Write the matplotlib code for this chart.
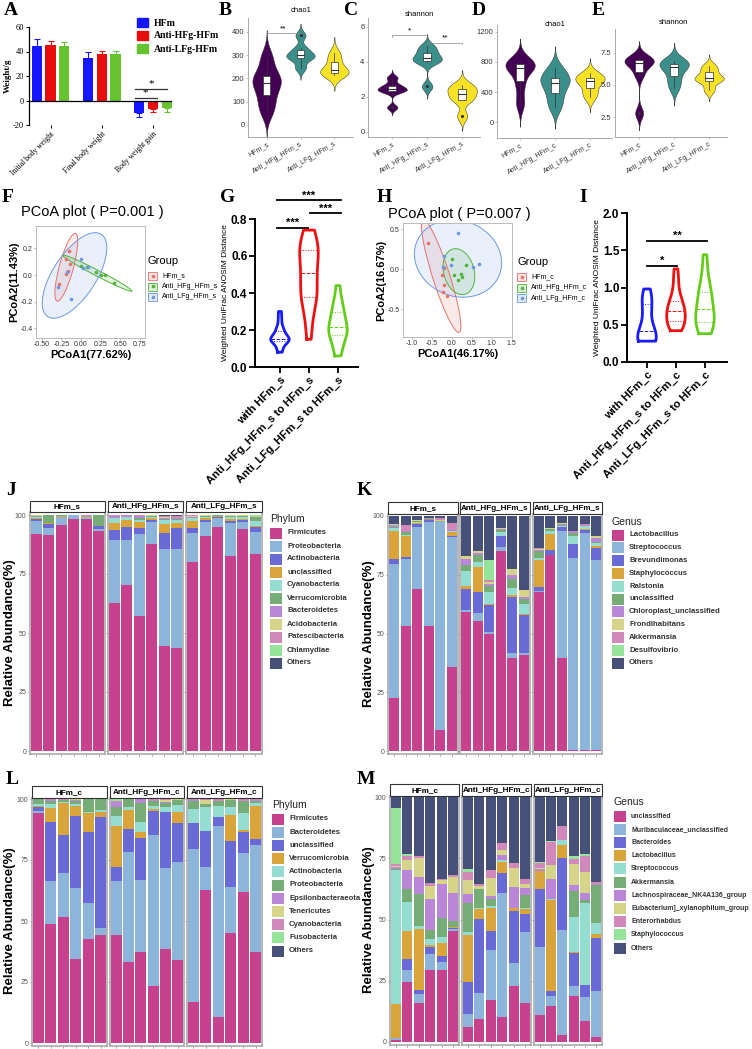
import numpy as np
import matplotlib
matplotlib.use('Agg')
import matplotlib.pyplot as plt
from matplotlib.patches import Rectangle, Ellipse

# ---------------- DATA ----------------
# Panel A
a_groups = ['Initial body weight', 'Final body weight', 'Body weight gain']
a_series = ['HFm', 'Anti-HFg-HFm', 'Anti-LFg-HFm']
a_mean_hfm = [44.5, 34.5, -10.0]
a_mean_hfg = [45.0, 38.0, -7.0]
a_mean_lfg = [44.5, 38.0, -6.5]
a_sd_hfm = [6.0, 5.5, 3.5]
a_sd_hfg = [3.5, 2.5, 2.5]
a_sd_lfg = [3.0, 2.5, 2.5]

# Panels B-E (alpha diversity samples)
s_labels = ['HFm_s', 'Anti_HFg_HFm_s', 'Anti_LFg_HFm_s']
c_labels = ['HFm_c', 'Anti_HFg_HFm_c', 'Anti_LFg_HFm_c']
b_chao1 = [[60, 115, 170, 190, 220, 290],
           [245, 285, 295, 305, 330, 385],
           [215, 220, 230, 245, 280, 310]]
c_shannon = [[1.4, 2.3, 2.4, 2.5, 2.7, 3.1],
             [2.6, 4.0, 4.1, 4.3, 4.6, 4.9],
             [0.9, 1.8, 2.0, 2.3, 2.5, 2.7]]
d_chao1 = [[250, 500, 700, 750, 780, 800],
           [200, 350, 480, 560, 600, 720],
           [330, 420, 530, 560, 600, 650]]
e_shannon = [[2.8, 5.8, 6.6, 6.8, 7.0, 7.1],
             [4.8, 5.5, 6.2, 6.6, 6.7, 6.9],
             [4.6, 5.3, 5.5, 5.6, 6.1, 6.5]]

# Panel F / H PCoA coordinates
f_hfm_x = [-0.15, -0.19, -0.14, -0.19, -0.17, -0.28]
f_hfm_y = [0.18, 0.12, 0.08, 0.01, 0.03, -0.07]
f_hfg_x = [0.00, 0.08, 0.19, 0.25, 0.30, 0.42]
f_hfg_y = [0.068, 0.06, 0.02, 0.00, -0.003, -0.06]
f_lfg_x = [0.00, 0.085, -0.29, -0.13, -0.18, 0.02]
f_lfg_y = [0.12, 0.06, -0.09, -0.18, 0.02, 0.05]
h_hfm_x = [-0.60, -0.20, -0.24, -0.20, -0.22, -0.12]
h_hfm_y = [0.33, 0.02, -0.07, -0.20, -0.28, -0.33]
h_hfg_x = [0.00, 0.37, 0.05, 0.23, 0.26, 0.17]
h_hfg_y = [0.13, 0.05, -0.07, -0.06, -0.10, -0.13]
h_lfg_x = [0.15, -0.20, -0.21, -0.01, 0.54, 0.68]
h_lfg_y = [0.46, 0.17, 0.03, 0.05, 0.03, 0.07]

# Panels G / I ANOSIM distances
g_labels = ['with HFm_s', 'Anti_HFg_HFm_s to HFm_s', 'Anti_LFg_HFm_s to HFm_s']
i_labels = ['with HFm_c', 'Anti_HFg_HFm_s to HFm_c', 'Anti_LFg_HFm_s to HFm_c']
g_with = [0.08, 0.10, 0.13, 0.14, 0.14, 0.15, 0.15, 0.15, 0.16, 0.17, 0.19, 0.20, 0.22, 0.26, 0.30]
g_hfg = [0.15, 0.22, 0.30, 0.36, 0.38, 0.38, 0.40, 0.42, 0.46, 0.50, 0.52, 0.56, 0.60, 0.62,
         0.63, 0.64, 0.65, 0.68, 0.72, 0.74]
g_lfg = [0.06, 0.10, 0.14, 0.17, 0.18, 0.20, 0.21, 0.22, 0.24, 0.28, 0.30, 0.33, 0.36, 0.44]
i_with = [0.28, 0.29, 0.30, 0.30, 0.31, 0.35, 0.42, 0.50, 0.62, 0.78, 0.80, 0.88, 0.98]
i_hfg = [0.42, 0.45, 0.50, 0.54, 0.55, 0.60, 0.66, 0.68, 0.70, 0.76, 0.80, 0.85, 0.95, 1.10, 1.25]
i_lfg = [0.38, 0.42, 0.50, 0.53, 0.55, 0.60, 0.69, 0.72, 0.80, 0.92, 0.95, 1.00, 1.20, 1.44]

# Panel J phylum (HFm_s x6, Anti_HFg x6, Anti_LFg x6)
j_cats = ['Firmicutes', 'Proteobacteria', 'Actinobacteria', 'unclassified', 'Cyanobacteria',
          'Verrucomicrobia', 'Bacteroidetes', 'Acidobacteria', 'Patescibacteria', 'Chlamydiae', 'Others']
j_firmicutes = [92.0, 91.6, 95.8, 98.3, 98.2, 93.1, 62.6, 70.3, 57.0, 87.8, 44.4, 43.7, 80.1, 90.9, 94.8, 82.6, 94.1, 83.3]
j_proteo = [5.3, 2.8, 3.2, 1.5, 0.8, 1.0, 26.6, 19.3, 35.0, 9.1, 41.0, 41.7, 12.3, 6.0, 3.9, 13.9, 3.1, 9.4]
j_actino = [1.0, 1.8, 0.2, 0.0, 0.3, 1.1, 4.5, 5.2, 2.3, 0.9, 7.0, 9.3, 2.3, 1.1, 0.3, 1.1, 0.8, 2.1]
j_uncl = [0.3, 0.3, 0.3, 0.0, 0.1, 0.2, 2.9, 3.1, 2.6, 0.9, 3.8, 2.1, 2.9, 0.7, 0.4, 0.7, 0.2, 0.7]
j_cyano = [0.4, 0.3, 0.1, 0.0, 0.1, 0.1, 2.0, 1.1, 1.0, 0.4, 1.7, 1.1, 1.0, 0.4, 0.2, 1.0, 0.8, 2.1]
j_verruc = [0.5, 3.0, 0.3, 0.1, 0.2, 4.5, 0.3, 0.2, 1.0, 0.3, 0.3, 0.4, 0.3, 0.3, 0.2, 0.3, 0.6, 1.4]
j_bactero = [0.2, 0.0, 0.0, 0.0, 0.1, 0.0, 0.5, 0.4, 0.5, 0.3, 0.6, 0.4, 0.4, 0.3, 0.1, 0.1, 0.1, 0.3]
j_acido = [0.1, 0.0, 0.0, 0.0, 0.1, 0.0, 0.1, 0.1, 0.1, 0.1, 0.2, 0.1, 0.1, 0.1, 0.0, 0.1, 0.1, 0.1]
j_pates = [0.1, 0.1, 0.0, 0.1, 0.0, 0.0, 0.5, 0.3, 0.5, 0.2, 0.6, 0.7, 0.5, 0.2, 0.1, 0.2, 0.1, 0.3]
j_chlamy = [0.0, 0.0, 0.0, 0.0, 0.0, 0.0, 0.0, 0.0, 0.0, 0.0, 0.1, 0.0, 0.1, 0.0, 0.0, 0.0, 0.0, 0.1]
j_others = [0.1, 0.1, 0.1, 0.0, 0.1, 0.0, 0.0, 0.0, 0.0, 0.0, 0.3, 0.5, 0.0, 0.0, 0.0, 0.0, 0.1, 0.2]

# Panel K genus
k_cats = ['Lactobacillus', 'Streptococcus', 'Brevundimonas', 'Staphylococcus', 'Ralstonia', 'unclassified',
          'Chloroplast_unclassified', 'Frondihabitans', 'Akkermansia', 'Desulfovibrio', 'Others']
k_lacto = [22.6, 53.0, 69.1, 53.2, 9.2, 35.8, 59.3, 55.3, 49.7, 84.8, 39.6, 41.0, 68.0, 83.1, 39.8, 0.3, 0.3, 0.3]
k_strep = [56.9, 28.7, 26.3, 44.3, 89.0, 55.4, 0.7, 3.5, 0.9, 1.7, 2.1, 0.9, 0.1, 0.2, 54.2, 81.7, 92.7, 81.0]
k_brev = [2.2, 0.9, 1.4, 0.5, 0.0, 0.5, 9.1, 8.9, 11.5, 4.7, 23.9, 15.8, 1.7, 2.2, 1.4, 6.1, 1.4, 5.2]
k_staph = [11.8, 9.0, 0.3, 0.0, 0.3, 1.6, 1.1, 10.4, 0.3, 0.2, 0.7, 0.7, 11.6, 6.8, 0.2, 0.2, 0.2, 0.7]
k_ralst = [1.2, 0.5, 0.5, 0.3, 0.2, 0.3, 6.2, 2.2, 5.2, 1.6, 3.1, 4.0, 1.0, 1.2, 0.5, 3.1, 1.2, 1.1]
k_uncl = [0.6, 1.0, 0.5, 0.2, 0.1, 0.2, 2.8, 3.1, 2.6, 0.8, 3.8, 2.1, 2.8, 0.7, 0.5, 1.5, 0.3, 0.7]
k_chloro = [0.3, 0.5, 0.1, 0.2, 0.1, 0.2, 2.4, 0.9, 0.9, 0.6, 1.8, 1.1, 0.3, 0.2, 0.3, 0.6, 0.2, 1.7]
k_frond = [0.2, 0.1, 0.1, 0.1, 0.1, 0.1, 1.5, 0.8, 0.7, 0.2, 2.5, 3.1, 0.5, 0.1, 0.3, 0.2, 0.1, 0.7]
k_akk = [0.5, 2.4, 0.1, 0.1, 0.6, 3.2, 0.0, 0.0, 1.0, 0.2, 0.0, 0.0, 0.7, 0.3, 0.3, 0.2, 0.6, 0.0]
k_desulf = [0.2, 0.0, 0.0, 0.0, 0.0, 0.0, 0.0, 0.0, 8.5, 0.0, 0.0, 0.0, 0.0, 0.0, 0.0, 0.0, 0.0, 0.0]
k_others = [3.5, 3.9, 1.8, 1.0, 1.0, 2.8, 16.9, 14.9, 18.7, 5.0, 22.5, 31.3, 13.5, 5.0, 2.8, 6.2, 3.2, 8.6]

# Panel L phylum
l_cats = ['Firmicutes', 'Bacteroidetes', 'unclassified', 'Verrucomicrobia', 'Actinobacteria', 'Proteobacteria',
          'Epsilonbacteraeota', 'Tenericutes', 'Cyanobacteria', 'Fusobacteria', 'Others']
l_firm = [94.4, 48.7, 51.6, 34.4, 42.7, 44.1, 44.1, 33.4, 37.5, 23.5, 38.6, 34.1, 16.6, 62.8, 10.6, 45.0, 61.8, 37.5]
l_bact = [0.8, 17.5, 18.0, 29.0, 14.6, 3.0, 22.1, 44.8, 29.3, 61.8, 33.3, 40.0, 62.8, 9.2, 78.3, 18.8, 16.0, 43.7]
l_uncl = [1.4, 24.5, 15.7, 29.6, 29.1, 45.5, 6.1, 9.5, 17.4, 9.9, 22.6, 15.9, 10.6, 14.9, 3.9, 19.0, 8.8, 2.3]
l_verr = [0.7, 5.6, 12.9, 4.3, 7.7, 2.1, 16.8, 7.8, 2.4, 0.7, 0.3, 4.8, 0.0, 0.0, 0.0, 10.7, 0.7, 13.8]
l_actino = [0.7, 1.8, 0.7, 0.8, 0.6, 0.8, 4.1, 1.4, 4.1, 1.4, 2.1, 2.7, 5.9, 9.7, 4.3, 3.4, 6.8, 1.2]
l_proteo = [2.0, 1.2, 0.6, 1.2, 5.3, 4.5, 3.7, 3.1, 7.5, 2.0, 1.6, 2.1, 3.4, 1.4, 2.2, 2.7, 5.2, 0.8]
l_epsil = [0.0, 0.2, 0.1, 0.3, 0.0, 0.0, 1.7, 0.0, 1.8, 0.3, 0.3, 0.1, 0.2, 0.0, 0.0, 0.1, 0.0, 0.2]
l_tener = [0.0, 0.0, 0.1, 0.2, 0.0, 0.0, 0.0, 0.0, 0.0, 0.1, 0.8, 0.1, 0.1, 1.6, 0.0, 0.1, 0.0, 0.1]
l_cyano = [0.0, 0.5, 0.2, 0.2, 0.0, 0.0, 0.5, 0.0, 0.0, 0.2, 0.3, 0.1, 0.3, 0.3, 0.7, 0.2, 0.7, 0.3]
l_fuso = [0.0, 0.0, 0.1, 0.0, 0.0, 0.0, 0.9, 0.0, 0.0, 0.1, 0.1, 0.1, 0.1, 0.1, 0.0, 0.0, 0.0, 0.1]
l_others = [0.0, 0.0, 0.0, 0.0, 0.0, 0.0, 0.0, 0.0, 0.0, 0.0, 0.0, 0.0, 0.0, 0.0, 0.0, 0.0, 0.0, 0.0]

# Panel M genus
m_cats = ['unclassified', 'Muribaculaceae_unclassified', 'Bacteroides', 'Lactobacillus', 'Streptococcus',
          'Akkermansia', 'Lachnospiraceae_NK4A136_group', 'Eubacterium]_xylanophilum_group', 'Enterorhabdus',
          'Staphylococcus', 'Others']
m_uncl = [1.0, 24.5, 15.9, 29.5, 29.3, 45.3, 6.1, 9.5, 17.3, 10.2, 22.7, 15.9, 10.9, 14.7, 3.0, 18.8, 8.6, 2.0]
m_muri = [0.6, 5.0, 3.8, 6.6, 3.4, 1.0, 5.5, 10.6, 20.1, 50.8, 9.5, 28.9, 27.9, 3.9, 42.9, 3.9, 9.8, 19.1]
m_bacteroides = [0.0, 4.5, 1.7, 2.7, 2.3, 0.4, 12.9, 30.0, 7.9, 8.0, 21.5, 7.6, 23.4, 2.2, 29.3, 13.6, 4.7, 21.5]
m_lacto = [14.0, 11.3, 24.9, 0.9, 5.4, 0.2, 19.0, 4.0, 9.5, 4.5, 1.0, 1.7, 7.2, 37.3, 5.1, 0.4, 0.3, 1.9]
m_strep = [54.7, 11.8, 0.9, 2.5, 2.5, 0.3, 1.4, 0.6, 0.6, 0.6, 0.2, 0.7, 0.3, 0.2, 2.3, 14.3, 33.5, 4.5]
m_akk = [0.3, 5.2, 13.1, 3.7, 7.7, 2.4, 12.0, 7.6, 2.8, 0.0, 0.0, 5.1, 0.0, 0.0, 0.0, 10.6, 1.2, 15.4]
m_lachno = [0.8, 8.0, 7.0, 12.3, 13.8, 11.2, 3.4, 0.3, 1.4, 2.4, 8.6, 3.1, 0.9, 8.1, 0.0, 2.3, 2.9, 0.3]
m_eub = [0.4, 3.8, 7.8, 5.3, 1.9, 6.6, 5.7, 0.9, 7.3, 2.0, 7.7, 1.4, 0.3, 5.7, 0.0, 8.9, 8.4, 0.3]
m_entero = [0.9, 1.8, 0.8, 1.4, 0.3, 0.8, 3.4, 0.9, 3.4, 2.9, 2.2, 2.0, 2.0, 9.5, 5.6, 2.0, 6.4, 0.6]
m_staph = [22.8, 1.0, 0.0, 0.0, 0.0, 0.0, 1.1, 0.0, 0.0, 0.0, 0.0, 0.0, 0.5, 0.4, 0.0, 1.1, 0.8, 0.0]
m_others = [4.4, 23.1, 24.1, 35.1, 33.4, 32.1, 29.5, 35.6, 29.7, 18.6, 26.8, 33.6, 26.3, 18.0, 11.8, 24.1, 23.4, 35.0]

# ---------------- STYLE ----------------
W, H = 752, 1049
SANS = ['Liberation Sans', 'DejaVu Sans']
SERIF = ['Liberation Serif', 'DejaVu Serif']
plt.rcParams['font.family'] = SANS
fig = plt.figure(figsize=(W / 100, H / 100), dpi=100)
fig.patch.set_facecolor('white')


def axp(l, t, r, b):
    return fig.add_axes([l / W, 1 - b / H, (r - l) / W, (b - t) / H])


def ftext(x, y, s, **kw):
    return fig.text(x / W, 1 - y / H, s, **kw)


def frect(x, y, w, h, **kw):
    fig.patches.append(Rectangle((x / W, 1 - (y + h) / H), w / W, h / H, transform=fig.transFigure, **kw))


# panel letters
for lt, (x, y) in {'A': (4, 2), 'B': (219, 2), 'C': (344, 2), 'D': (472, 2), 'E': (592, 2),
                   'F': (2, 189), 'G': (220, 189), 'H': (377, 189), 'I': (579, 189),
                   'J': (6, 482), 'K': (357, 482), 'L': (6, 771), 'M': (357, 771)}.items():
    ftext(x, y, lt, family=SERIF, fontweight='bold', fontsize=14, va='top', ha='left')

# ---------------- PANEL A ----------------
axA = axp(29, 27, 172, 125)
a_colors = ['#1515ff', '#e80c0c', '#66c22e']
a_means = [a_mean_hfm, a_mean_hfg, a_mean_lfg]
a_sds = [a_sd_hfm, a_sd_hfg, a_sd_lfg]
for i in range(3):
    xs = np.arange(3) + (i - 1) * 0.27
    axA.bar(xs, a_means[i], 0.2, color=a_colors[i], zorder=2)
    for xi, m, sd in zip(xs, a_means[i], a_sds[i]):
        yerr = [[0], [sd]] if m >= 0 else [[sd], [0]]
        axA.errorbar([xi], [m], yerr=yerr, color=a_colors[i], capsize=2.2, lw=0.8, capthick=0.8, zorder=3)
axA.axhline(0, color='black', lw=0.9, zorder=4)
axA.set_xlim(-0.42, 2.37)
axA.set_ylim(-20, 60)
axA.set_yticks([-20, 0, 20, 40, 60])
axA.set_yticklabels(['-20', '0', '20', '40', '60'], family=SERIF, fontsize=6)
axA.set_xticks(range(3))
axA.set_xticklabels(a_groups, rotation=45, ha='right', rotation_mode='anchor', family=SERIF, fontsize=5.5)
for s in ['top', 'right', 'bottom']:
    axA.spines[s].set_visible(False)
axA.spines['left'].set_linewidth(0.9)
axA.tick_params(length=2, width=0.7, pad=1.5)
axA.set_ylabel('Weight/g', family=SERIF, fontweight='bold', fontsize=6.5, labelpad=1)
axA.plot([1.64, 2.28], [9.5, 9.5], color='#333', lw=0.9, zorder=5)
axA.plot([1.64, 2.07], [2.0, 2.0], color='#333', lw=0.9, zorder=5)
axA.text(1.96, 10, '*', ha='center', va='bottom', fontsize=8, family=SERIF)
axA.text(1.85, 2.5, '*', ha='center', va='bottom', fontsize=8, family=SERIF)
for i, name in enumerate(a_series):
    y = [23, 36, 49][i]
    frect(137, y - 4.5, 11, 9, color=a_colors[i])
    ftext(154, y, name, family=SERIF, fontweight='bold', fontsize=7, va='center')


# ---------------- PANELS B-E ----------------
def gg_violin(ax, groups, colors, halfw=0.42):
    for i, (d, c) in enumerate(zip(groups, colors)):
        d = np.asarray(d, float)
        n = len(d)
        sd = d.std(ddof=1)
        q1, med, q3 = np.percentile(d, [25, 50, 75])
        iqr = q3 - q1
        spread = min(sd, iqr / 1.34) if iqr > 0 else sd
        bw = 0.9 * spread * n ** -0.2
        ys = np.linspace(d.min() - 3 * bw, d.max() + 3 * bw, 300)
        dens = np.exp(-0.5 * ((ys[:, None] - d[None, :]) / bw) ** 2).sum(1)
        dens = dens / dens.max() * halfw
        x0 = i + 1
        ax.fill_betweenx(ys, x0 - dens, x0 + dens, color=c, ec='#333333', lw=0.35, zorder=2)
        lo = d[d >= q1 - 1.5 * iqr].min()
        hi = d[d <= q3 + 1.5 * iqr].max()
        ax.plot([x0, x0], [lo, q1], color='#333', lw=0.5, zorder=3)
        ax.plot([x0, x0], [q3, hi], color='#333', lw=0.5, zorder=3)
        ax.add_patch(Rectangle((x0 - 0.11, q1), 0.22, q3 - q1, fc='white', ec='#333', lw=0.5, zorder=4))
        ax.plot([x0 - 0.11, x0 + 0.11], [med, med], color='#333', lw=0.8, zorder=5)
        out = d[(d < lo) | (d > hi)]
        ax.scatter(np.full(len(out), x0), out, s=1.5, color='#333', zorder=5)


vcols = ['#440154', '#3b8f8a', '#f7e225']


def style_alpha(ax, labels, xlim, ylim, yticks, yticklabels):
    ax.set_xlim(*xlim)
    ax.set_ylim(*ylim)
    ax.set_xticks([1, 2, 3])
    ax.set_xticklabels(labels, rotation=30, ha='right', rotation_mode='anchor', fontsize=5, color='#333')
    ax.set_yticks(yticks)
    ax.set_yticklabels(yticklabels, fontsize=5.5, color='#333')
    for s in ['top', 'right']:
        ax.spines[s].set_visible(False)
    for s in ['left', 'bottom']:
        ax.spines[s].set_color('#aaaaaa')
        ax.spines[s].set_linewidth(0.7)
    ax.tick_params(length=1.5, width=0.5, color='#aaaaaa', pad=1)
    ax.patch.set_alpha(0)


axB = axp(248, 18, 353, 137)
gg_violin(axB, b_chao1, vcols)
style_alpha(axB, s_labels, (0.45, 3.55), (-52, 460), [0, 100, 200, 300, 400], ['0', '100', '200', '300', '400'])
axB.plot([1, 1, 2, 2], [388, 395, 395, 388], color='#888', lw=0.5)
axB.text(1.5, 397, '**', ha='center', va='bottom', fontsize=6)
ftext(301, 10, 'chao1', ha='center', va='center', fontsize=5.5)

axC = axp(368, 18, 480, 137)
gg_violin(axC, c_shannon, vcols)
style_alpha(axC, s_labels, (0.31, 3.51), (-0.29, 6.51), [0, 2, 4, 6], ['0', '2', '4', '6'])
axC.plot([1, 1, 2, 2], [5.45, 5.55, 5.55, 5.45], color='#888', lw=0.5)
axC.text(1.5, 5.6, '*', ha='center', va='bottom', fontsize=6)
axC.plot([2, 2, 3, 3], [5.0, 5.1, 5.1, 5.0], color='#888', lw=0.5)
axC.text(2.5, 5.15, '**', ha='center', va='bottom', fontsize=6)
ftext(419, 15, 'shannon', ha='center', va='center', fontsize=5.5)

axD = axp(497, 25, 612, 138)
gg_violin(axD, d_chao1, vcols)
style_alpha(axD, c_labels, (0.34, 3.63), (-213, 1293), [0, 400, 800, 1200], ['0', '400', '800', '1200'])
ftext(555, 24, 'chao1', ha='center', va='center', fontsize=5.5)

axE = axp(615, 29, 727, 137)
gg_violin(axE, e_shannon, vcols)
style_alpha(axE, c_labels, (0.31, 3.51), (0.94, 9.37), [2.5, 5.0, 7.5], ['2.5', '5.0', '7.5'])
ftext(673, 23, 'shannon', ha='center', va='center', fontsize=5.5)

# ---------------- PANELS F / H (PCoA) ----------------
p_cols = ['#e5736b', '#52b43c', '#6c98e6']
RAD = 2.9


def conf_ellipse(ax, x, y, c):
    x = np.asarray(x, float)
    y = np.asarray(y, float)
    cov = np.cov(x, y)
    vals, vecs = np.linalg.eigh(cov)
    ang = np.degrees(np.arctan2(vecs[1, 1], vecs[0, 1]))
    ax.add_patch(Ellipse((x.mean(), y.mean()), 2 * RAD * np.sqrt(vals[1]), 2 * RAD * np.sqrt(vals[0]),
                         angle=ang, fc=c, alpha=0.15, zorder=1))
    ax.add_patch(Ellipse((x.mean(), y.mean()), 2 * RAD * np.sqrt(vals[1]), 2 * RAD * np.sqrt(vals[0]),
                         angle=ang, fc='none', ec=c, lw=0.7, zorder=2))
    ax.scatter(x, y, s=2.5, color=c, zorder=3)


def pcoa(ax, sets, xlim, ylim, xt, xtl, yt, ytl, title, xl, yl, tx, ty, lx, legend_names, ly):
    for (x, y), c in zip(sets, p_cols):
        conf_ellipse(ax, x, y, c)
    ax.set_xlim(*xlim)
    ax.set_ylim(*ylim)
    ax.set_xticks(xt)
    ax.set_xticklabels(xtl, fontsize=5, color='#333')
    ax.set_yticks(yt)
    ax.set_yticklabels(ytl, fontsize=5, color='#333')
    for s in ax.spines.values():
        s.set_color('#bbbbbb')
        s.set_linewidth(0.7)
    ax.tick_params(length=1.5, width=0.5, color='#999', pad=1)
    ax.set_xlabel(xl, fontsize=8, fontweight='bold', labelpad=1)
    ax.set_ylabel(yl, fontsize=8, fontweight='bold', labelpad=1)
    ftext(tx, ty, title, fontsize=10.5, ha='center', va='center')
    ftext(lx, ly, 'Group', fontsize=8, ha='left', va='center')
    for i, nm in enumerate(legend_names):
        yy = ly + 15 + i * 10.5
        frect(lx, yy - 4, 9, 8, fc=p_cols[i], alpha=0.2, ec='none')
        frect(lx, yy - 4, 9, 8, fc='none', ec=p_cols[i], lw=0.6)
        fig.lines.append(plt.Line2D([(lx + 4.5) / W], [1 - yy / H], marker='o', ms=1.6, color=p_cols[i],
                                    transform=fig.transFigure))
        ftext(lx + 14, yy, nm, fontsize=5.0, ha='left', va='center')


axF = axp(36, 226, 145, 338)
pcoa(axF, [(f_hfm_x, f_hfm_y), (f_hfg_x, f_hfg_y), (f_lfg_x, f_lfg_y)],
     (-0.572, 0.813), (-0.473, 0.368), [-0.5, -0.25, 0, 0.25, 0.5, 0.75],
     ['-0.50', '-0.25', '0.00', '0.25', '0.50', '0.75'], [-0.4, -0.2, 0, 0.2], ['-0.4', '-0.2', '0.0', '0.2'],
     'PCoA plot ( P=0.001 )', 'PCoA1(77.62%)', 'PCoA2(11.43%)', 92, 212, 148, s_labels, 261)

axH = axp(403, 223, 512, 337)
pcoa(axH, [(h_hfm_x, h_hfm_y), (h_hfg_x, h_hfg_y), (h_lfg_x, h_lfg_y)],
     (-1.22, 1.51), (-0.85, 0.58), [-1, -0.5, 0, 0.5, 1, 1.5],
     ['-1.0', '-0.5', '0.0', '0.5', '1.0', '1.5'], [-0.5, 0, 0.5], ['-0.5', '0.0', '0.5'],
     'PCoA plot ( P=0.007 )', 'PCoA1(46.17%)', 'PCoA2(16.67%)', 459, 214, 517, c_labels, 262)

# ---------------- PANELS G / I ----------------
gp_cols = ['#1a1aff', '#ee1111', '#66cc1a']


def gp_violin(ax, groups, halfw=0.32):
    for i, (d, c) in enumerate(zip(groups, gp_cols)):
        d = np.sort(np.asarray(d, float))
        n = len(d)
        q1, med, q3 = np.percentile(d, [25, 50, 75])
        sd = d.std(ddof=1)
        bw = 0.9 * min(sd, (q3 - q1) / 1.34) * n ** -0.2
        ys = np.linspace(d.min(), d.max(), 300)
        dens = np.exp(-0.5 * ((ys[:, None] - d[None, :]) / bw) ** 2).sum(1)
        dens = dens / dens.max() * halfw
        x0 = i + 1
        xs = np.r_[x0 - dens, (x0 + dens)[::-1], x0 - dens[0]]
        yy = np.r_[ys, ys[::-1], ys[0]]
        ax.plot(xs, yy, color=c, lw=2.0, solid_joinstyle='round', zorder=3)
        for q, ls in [(q1, ':'), (med, '--'), (q3, ':')]:
            w = np.interp(q, ys, dens)
            ax.plot([x0 - w, x0 + w], [q, q], color=c, lw=0.7, ls=ls, zorder=2)


def style_gp(ax, labels, xlim, ylim, yticks, ytl):
    ax.set_xlim(*xlim)
    ax.set_ylim(*ylim)
    ax.set_yticks(yticks)
    ax.set_yticklabels(ytl, fontsize=8.5, fontweight='bold')
    ax.set_xticks([1, 2, 3])
    ax.set_xticklabels(labels, rotation=45, ha='right', rotation_mode='anchor', fontsize=8, fontweight='bold')
    for s in ['top', 'right']:
        ax.spines[s].set_visible(False)
    for s in ['left', 'bottom']:
        ax.spines[s].set_linewidth(1.4)
    ax.tick_params(length=4, width=1.3, pad=1.5)
    ax.set_ylabel('Weighted UniFrac ANOSIM Distance', fontsize=6, labelpad=1)
    ax.patch.set_alpha(0)


def bracket(ax, x1, x2, y, txt):
    ax.plot([x1, x2], [y, y], color='black', lw=1.3, clip_on=False)
    ax.text((x1 + x2) / 2, y, txt, ha='center', va='bottom', fontsize=8, fontweight='bold')


axG = axp(255, 219, 358, 367)
gp_violin(axG, [g_with, g_hfg, g_lfg])
style_gp(axG, g_labels, (0.14, 3.69), (0, 0.8), [0, 0.2, 0.4, 0.6, 0.8], ['0.0', '0.2', '0.4', '0.6', '0.8'])
bracket(axG, 0.9, 1.97, 0.75, '***')
bracket(axG, 2.03, 3.1, 0.83, '***')
bracket(axG, 0.9, 3.1, 0.9, '***')

axI = axp(627, 213, 727, 362)
gp_violin(axI, [i_with, i_hfg, i_lfg])
style_gp(axI, i_labels, (0.31, 3.76), (0, 2.0), [0, 0.5, 1.0, 1.5, 2.0], ['0.0', '0.5', '1.0', '1.5', '2.0'])
bracket(axI, 1.0, 2.03, 1.29, '*')
bracket(axI, 1.0, 3.07, 1.62, '**')

# ---------------- STACKED BAR PANELS ----------------
stack_colors = ['#c6428f', '#8db4da', '#6a6ad6', '#d9a43a', '#95ddd0', '#76ad76', '#b986d8',
                '#d5d489', '#d089ba', '#95e49a', '#465079']
fac_s = ['HFm_s', 'Anti_HFg_HFm_s', 'Anti_LFg_HFm_s']
fac_c = ['HFm_c', 'Anti_HFg_HFm_c', 'Anti_LFg_HFm_c']


def stacked(series, facets, xspans, strip_top, strip_bot, ax_bot, y100, y0, ylab_x, leg, legfs):
    M = np.array(series, float)
    M = M / M.sum(0) * 100
    ppu = (y0 - y100) / 100.0
    ylim = (-(ax_bot - y0) / ppu, 100 + (y100 - strip_bot) / ppu)
    for f, (l, r) in enumerate(xspans):
        ax = axp(l, strip_bot, r, ax_bot)
        bottom = np.zeros(6)
        xs = np.arange(6)
        for k in range(M.shape[0]):
            vals = M[k, f * 6:(f + 1) * 6]
            ax.bar(xs, vals, 0.88, bottom=bottom, color=stack_colors[k], lw=0)
            bottom += vals
        ax.set_xlim(-0.52, 5.52)
        ax.set_ylim(*ylim)
        ax.set_xticks(xs)
        ax.set_xticklabels([])
        ax.set_yticks([0, 25, 50, 75, 100])
        if f == 0:
            ax.set_yticklabels(['0', '25', '50', '75', '100'], fontsize=5, color='#555')
        else:
            ax.set_yticklabels([])
            ax.tick_params(axis='y', length=0)
        ax.tick_params(length=1.5, width=0.4, color='#555', pad=1)
        for s in ax.spines.values():
            s.set_color('#aaaaaa')
            s.set_linewidth(1.2)
        frect(l, strip_top, r - l, strip_bot - strip_top, fc='white', ec='#333333', lw=0.8)
        ftext((l + r) / 2, (strip_top + strip_bot) / 2 + 0.5, facets[f], ha='center', va='center',
              fontsize=5.9, fontweight='bold')
    ftext(ylab_x, (y0 + y100) / 2, 'Relative Abundance(%)', rotation=90, ha='center', va='center',
          fontsize=9.5, fontweight='bold')
    lx, ty, y1, step, title, names = leg
    ftext(lx, ty, title, fontsize=7.5, ha='left', va='center', color='#222')
    for i, nm in enumerate(names):
        yy = y1 + i * step
        frect(lx, yy - 5.5, 11.5, 11, fc=stack_colors[i], ec='none')
        ftext(lx + 17, yy, nm, fontsize=legfs, fontweight='bold', ha='left', va='center', color='#333')


stacked([j_firmicutes, j_proteo, j_actino, j_uncl, j_cyano, j_verruc, j_bactero, j_acido, j_pates,
         j_chlamy, j_others], fac_s, [(30, 105), (108, 183), (186, 262)], 501, 512, 754, 515, 751, 10,
        (270, 519, 533, 13.0, 'Phylum', j_cats), 5.6)
stacked([k_lacto, k_strep, k_brev, k_staph, k_ralst, k_uncl, k_chloro, k_frond, k_akk, k_desulf, k_others],
        fac_s, [(388, 458), (460, 530), (533, 602)], 502, 514, 754, 516, 751, 369,
        (612, 522, 535, 12.8, 'Genus', k_cats), 5.6)
stacked([l_firm, l_bact, l_uncl, l_verr, l_actino, l_proteo, l_epsil, l_tener, l_cyano, l_fuso, l_others],
        fac_c, [(32, 107), (110, 184), (187, 262)], 786, 798, 1046, 799, 1043, 10,
        (272, 805, 819, 13.2, 'Phylum', l_cats), 5.6)
stacked([m_uncl, m_muri, m_bacteroides, m_lacto, m_strep, m_akk, m_lachno, m_eub, m_entero, m_staph, m_others],
        fac_c, [(390, 459), (462, 531), (534, 602)], 784, 796, 1045, 797, 1042, 369,
        (614, 802, 816, 13.2, 'Genus', m_cats), 5.0)

fig.savefig('out.png', dpi=100, facecolor='white')
